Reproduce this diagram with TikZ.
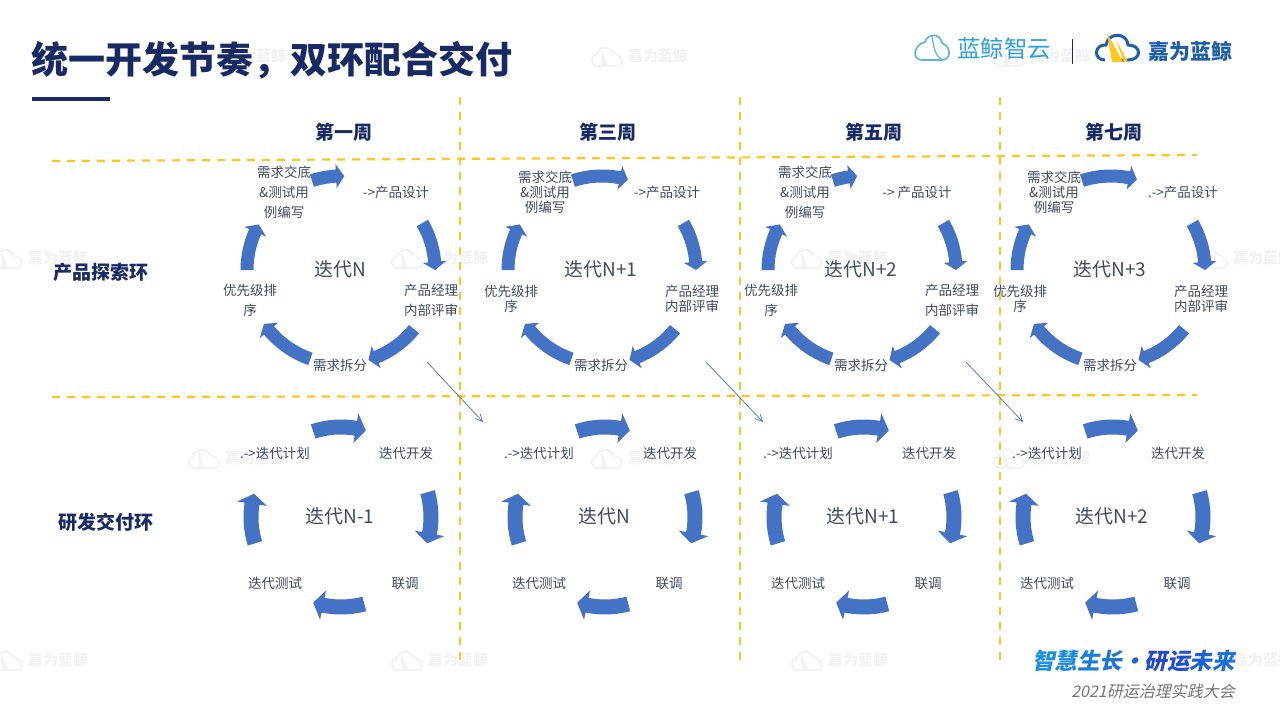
\documentclass[tikz,border=0pt]{standalone}
\usepackage{fontspec}
\usepackage{xcolor}
\setmainfont{Noto Sans CJK SC}
\newfontfamily\slantfont[FakeSlant=0.22,BoldFeatures={FakeSlant=0.22}]{Noto Sans CJK SC}
\usetikzlibrary{arrows.meta,calc,positioning}

\definecolor{titlenavy}{HTML}{172A63}
\definecolor{labelslate}{HTML}{3F4A5F}
\definecolor{ringblue}{HTML}{4472C4}
\definecolor{dashyellow}{HTML}{FFC61E}
\definecolor{lanjingblue}{HTML}{2F9FE0}
\definecolor{jiaweiblue}{HTML}{1F5FA8}

\tikzset{
  steplabel/.style={text=labelslate, align=center, inner sep=0pt},
  iterlabel/.style={text=labelslate, inner sep=0pt, font=\fontsize{19}{21}\selectfont},
  headlabel/.style={text=titlenavy, inner sep=0pt, font=\fontsize{19}{21}\selectfont\bfseries},
  gridline/.style={dashyellow, line width=2.2pt, dash pattern=on 8pt off 7pt},
  handoff/.style={ringblue, line width=0.7pt, -{Straight Barb[length=7pt,width=7pt]}},
  watermark/.style={text=black!5, inner sep=0pt, font=\fontsize{15}{16}\selectfont\bfseries}
}

% centre x, centre y, radius, start angle, tip angle
\newcommand{\ringarrow}[5]{
  \begin{scope}[shift={(#1,-#2)}]
    \pgfmathsetmacro{\baseang}{#5+\hd}
    \fill[ringblue] (#4:#3+\bw) arc[start angle=#4, end angle=\baseang, radius=#3+\bw]
      -- (\baseang:#3+\hw) -- (#5:#3) -- (\baseang:#3-\hw) -- (\baseang:#3-\bw)
      arc[start angle=\baseang, end angle=#4, radius=#3-\bw] -- cycle;
  \end{scope}
}
\newcommand{\cloudpath}{(8,-20) .. controls (1,-20) and (-1,-10) .. (6,-9)
  .. controls (8,-1) and (19,1) .. (22,-6)
  .. controls (29,-9) and (36,-14) .. (30,-19)
  .. controls (28,-21) and (25,-20) .. (22,-20)}

\begin{document}
\begin{tikzpicture}[x=1pt, y=1pt, >=Stealth]
  \useasboundingbox (0,0) rectangle (1280,-720);

  % watermarks
  \foreach \wx/\wy [count=\n] in {188/56, 590/56, 992/56, -10/258, 390/258, 790/258, 1195/258,
      187/458, 590/458, 992/458, -10/660, 390/660, 790/660, 1195/660}{
    \begin{scope}[shift={(\wx,-\wy+10)}]
      \draw[black!5, line width=1.6pt] \cloudpath -- cycle;
      \fill[black!5] (11,-2) -- (18,-20) -- (12,-20) -- cycle;
    \end{scope}
    \node[watermark, anchor=west] (mark\n) at (\wx+38,-\wy) {嘉为蓝鲸};
  }

  % grid
  \draw[gridline] (52,-161) -- (1197,-155);
  \draw[gridline] (52,-397) -- (1197,-395);
  \draw[gridline] (460,-97) -- (460,-667);
  \draw[gridline] (740,-97) -- (740,-667);
  \draw[gridline] (1000,-97) -- (1000,-667);

  % title
  \node[anchor=west, inner sep=0pt, text=titlenavy, font=\fontsize{37}{40}\selectfont\bfseries]
    (title) at (31,-60) {统一开发节奏，双环配合交付};
  \fill[titlenavy] (32,-97) rectangle (110,-101);

  % logos
  \draw[lanjingblue!80, line width=1.6pt] (922,-60) .. controls (911,-60) and (914,-44) .. (925,-42)
    .. controls (927,-34) and (940,-32) .. (942,-43) .. controls (952,-47) and (951,-60) .. (942,-60) -- cycle;
  \draw[lanjingblue!80, line width=1.2pt] (932,-36) .. controls (934,-50) and (936,-58) .. (944,-60);
  \node[anchor=west, inner sep=0pt, text=lanjingblue, font=\fontsize{23.5}{25}\selectfont] (lanjing) at (957,-49) {蓝鲸智云};
  \draw[titlenavy, line width=0.7pt] (1072,-39) -- (1072,-64);
  \draw[jiaweiblue, line width=3pt] (1105,-60) .. controls (1093,-60) and (1094,-44) .. (1106,-45)
    .. controls (1108,-32) and (1127,-32) .. (1128,-45) .. controls (1142,-45) and (1142,-60) .. (1128,-60) -- (1120,-60);
  \fill[dashyellow] (1107,-33) -- (1123,-62) -- (1112,-62) -- cycle;
  \fill[dashyellow] (1116,-40) -- (1128,-62) -- (1124,-62) -- cycle;
  \node[anchor=west, inner sep=0pt, text=jiaweiblue, font=\fontsize{21}{23}\selectfont\bfseries] (jiawei) at (1148,-51) {嘉为蓝鲸};

  % slogan
  \node[anchor=east, inner sep=0pt, font=\fontsize{22.5}{25}\selectfont\slantfont\bfseries] (slogan) at (1235,-661)
    {\textcolor[HTML]{1C8FE0}{智}\textcolor[HTML]{1A86DE}{慧}\textcolor[HTML]{1A7EDC}{生}\textcolor[HTML]{1B74DA}{长}\textcolor[HTML]{1E62D6}{·}\textcolor[HTML]{2048D2}{研}\textcolor[HTML]{1F4FD4}{运}\textcolor[HTML]{1D60D6}{未}\textcolor[HTML]{1B70D8}{来}};
  \node[anchor=east, inner sep=0pt, text=black!55, font=\fontsize{16}{18}\selectfont\slantfont] (meeting) at (1235,-691) {2021研运治理实践大会};

  % rows and weeks
  \node[headlabel] (rowproduct) at (101,-272) {产品探索环};
  \node[headlabel] (rowdev) at (106,-522) {研发交付环};
  \foreach \wx/\wk [count=\n] in {344/第一周, 608/第三周, 874/第五周, 1114/第七周}{
    \node[headlabel] (week\n) at (\wx,-132) {\wk};
  }

  % product loops
  \def\bw{6.5}\def\hw{12}\def\hd{5}
  \foreach \cx/\tip/\gp/\dx/\dtxt/\iter [count=\n] in {
      341/88/20/55/{->产品设计}/N,
      602/74/15/65/{->产品设计}/N+1,
      862/93/20/55/{-> 产品设计}/N+2,
      1111/74/15/72/{.->产品设计}/N+3}{
    \ringarrow{\cx}{270}{94}{108}{\tip}
    \ringarrow{\cx}{270}{94}{30}{0}
    \ringarrow{\cx}{270}{94}{-39}{-73}
    \ringarrow{\cx}{270}{94}{251}{215}
    \ringarrow{\cx}{270}{94}{180}{151}
    \node[iterlabel] (piter\n) at (\cx-1,-269) {迭代\iter};
    \node[steplabel, font=\fontsize{13.5}{\gp}\selectfont] (handover\n) at (\cx-57,-192.7)
      {需求交底\\\&测试用\\例编写};
    \node[steplabel, font=\fontsize{13.5}{15}\selectfont] (design\n) at (\cx+\dx,-192.7) {\dtxt};
    \node[steplabel, font=\fontsize{13.5}{\gp}\selectfont] (review\n) at (\cx+90,-298.5-\gp*0.4+6)
      {产品经理\\内部评审};
    \node[steplabel, font=\fontsize{13.5}{\gp}\selectfont] (split\n) at (\cx-1,-365.5) {需求拆分};
    \node[steplabel, font=\fontsize{13.5}{\gp}\selectfont] (rank\n) at (\cx-91,-298.5-\gp*0.4+6)
      {优先级排\\序};
  }

  % delivery loops
  \def\bw{7.5}\def\hw{15}\def\hd{6.5}
  \foreach \cx/\iter [count=\n] in {341/N-1, 605/N, 864/N+1, 1113/N+2}{
    \ringarrow{\cx}{517}{90}{108}{74}
    \ringarrow{\cx}{517}{90}{16}{-17}
    \ringarrow{\cx}{517}{90}{-75}{-108}
    \ringarrow{\cx}{517}{90}{197}{165}
    \node[iterlabel] (diter\n) at (\cx-1,-516) {迭代\iter};
    \node[steplabel, font=\fontsize{13.5}{15}\selectfont] (plan\n) at (\cx-66,-453.5) {.->迭代计划};
    \node[steplabel, font=\fontsize{13.5}{15}\selectfont] (build\n) at (\cx+65,-453.5) {迭代开发};
    \node[steplabel, font=\fontsize{13.5}{15}\selectfont] (joint\n) at (\cx+64,-583.5) {联调};
    \node[steplabel, font=\fontsize{13.5}{15}\selectfont] (test\n) at (\cx-66,-583.5) {迭代测试};
  }

  % hand-offs between the rings
  \foreach \ax/\bx [count=\n] in {427/483, 706/763, 966/1023}{
    \coordinate (from\n) at (\ax,-362);
    \coordinate (to\n) at (\bx,-422);
    \draw[handoff] (from\n) -- (to\n);
  }
\end{tikzpicture}
\end{document}
